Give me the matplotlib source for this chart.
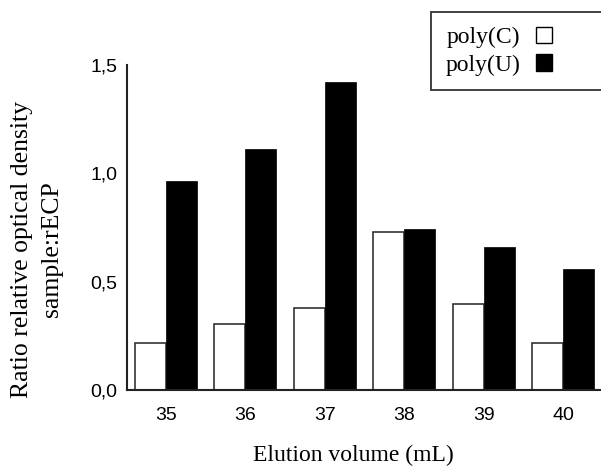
import matplotlib
matplotlib.use("Agg")
import matplotlib.pyplot as plt
from matplotlib.patches import Patch
import numpy as np

# elution fractions and measured ratios
volumes = [35, 36, 37, 38, 39, 40]
poly_c = [0.217, 0.305, 0.378, 0.729, 0.397, 0.217]
poly_u = [0.965, 1.112, 1.421, 0.743, 0.660, 0.558]
yticks = [0.0, 0.5, 1.0, 1.5]
ytick_labels = ["0,0", "0,5", "1,0", "1,5"]

serif = "Liberation Serif"
sans = "Liberation Sans"

W, H = 601, 469
fig = plt.figure(figsize=(W / 100, H / 100), dpi=100)
ax = fig.add_axes([127 / W, 79 / H, 473 / W, 325 / H])

x = np.array(volumes)
w = 0.39
ax.bar(x, poly_c, width=-w, align="edge", facecolor="white",
       edgecolor="#333333", linewidth=1.2)
ax.bar(x, poly_u, width=w, align="edge", facecolor="black",
       edgecolor="black", linewidth=0.5)

ax.set_xlim(34.51, 40.46)
ax.set_ylim(0, 1.5)
ax.set_xticks(volumes)
ax.set_xticklabels([str(v) for v in volumes], fontfamily=sans, fontsize=14)
ax.set_yticks(yticks)
ax.set_yticklabels(ytick_labels, fontfamily=sans, fontsize=14)
ax.tick_params(axis="x", length=0, pad=12)
ax.tick_params(axis="y", length=0, pad=7)

for s in ["top", "right"]:
    ax.spines[s].set_visible(False)
for s in ["left", "bottom"]:
    ax.spines[s].set_linewidth(1.5)
    ax.spines[s].set_color("#222222")

# axis titles placed by hand, they sit off-centre in the original
fig.text(37 / W, 1 - 249 / H, "Ratio relative optical density\nsample:rECP",
         rotation=90, ha="center", va="center", fontfamily=serif,
         fontsize=18.5, linespacing=1.45)
fig.text(353 / W, 1 - 455 / H, "Elution volume (mL)", ha="center", va="center",
         fontfamily=serif, fontsize=17)

hands = [Patch(facecolor="white", edgecolor="black", linewidth=1.0),
         Patch(facecolor="black", edgecolor="black")]
leg = fig.legend(handles=hands, labels=["poly(C)", "poly(U)"],
                 loc="upper left",
                 bbox_to_anchor=(431 / W, 1 - 86 / H, 200 / W, 74 / H),
                 mode="expand", borderaxespad=0, markerfirst=False,
                 fancybox=False, handlelength=0.7, handleheight=0.7,
                 handletextpad=0.65, labelspacing=0.25, borderpad=0.62,
                 prop={"family": serif, "size": 17})
leg.get_frame().set_edgecolor("black")
leg.get_frame().set_linewidth(1.3)

fig.savefig("out.png", dpi=100)
